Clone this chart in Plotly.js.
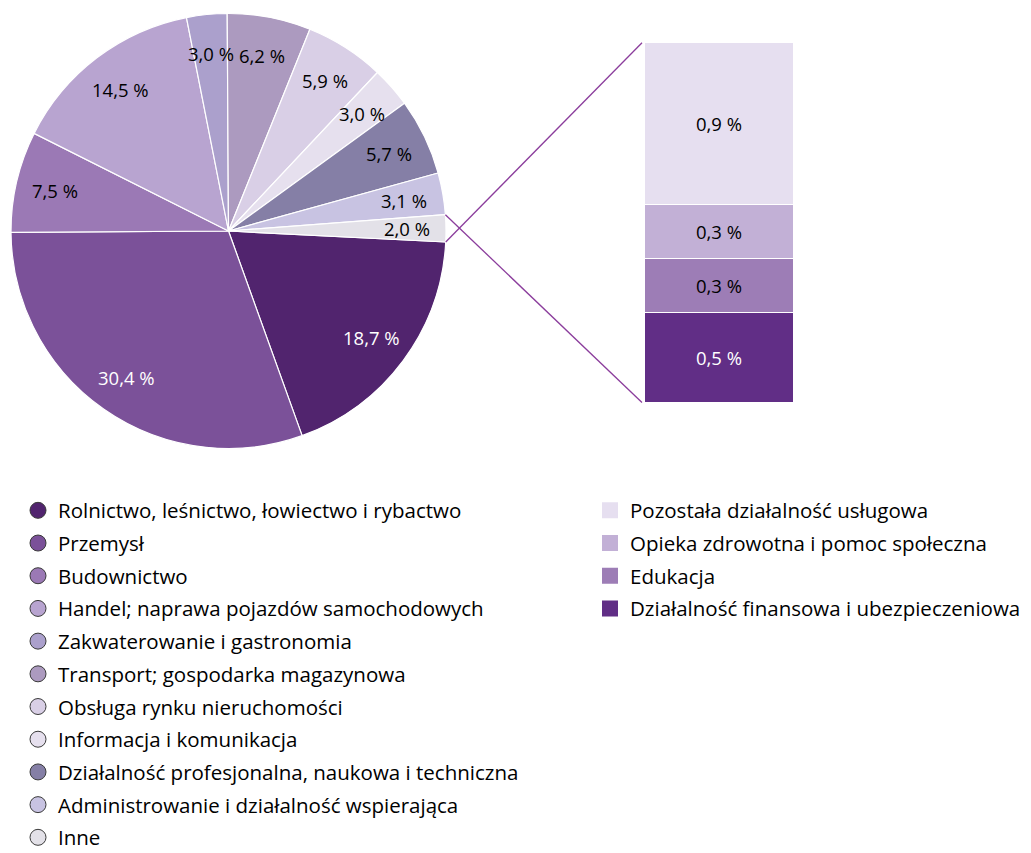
<!DOCTYPE html>
<html><head><meta charset="utf-8">
<script src="https://cdn.plot.ly/plotly-3.0.1.min.js"></script>
<style>html,body{margin:0;padding:0;background:#fff}#chart{width:1031px;height:853px}</style>
</head><body><div id="chart"></div>
<script>
// ---- data ----
const pieLabels = [
  'Rolnictwo, leśnictwo, łowiectwo i rybactwo',
  'Przemysł',
  'Budownictwo',
  'Handel; naprawa pojazdów samochodowych',
  'Zakwaterowanie i gastronomia',
  'Transport; gospodarka magazynowa',
  'Obsługa rynku nieruchomości',
  'Informacja i komunikacja',
  'Działalność profesjonalna, naukowa i techniczna',
  'Administrowanie i działalność wspierająca',
  'Inne'
];
const pieValues = [18.7, 30.4, 7.5, 14.5, 3.0, 6.2, 5.9, 3.0, 5.7, 3.1, 2.0];
const pieColors = ['#51246E','#7B5199','#9B79B5','#B8A4D0','#ABA0CC','#AC9ABF','#D9CFE6','#E6E0EE','#857FA6','#C8C3E2','#E3E1E8'];

// breakdown of "Inne" (bottom to top of the stacked bar)
const barLabels = [
  'Działalność finansowa i ubezpieczeniowa',
  'Edukacja',
  'Opieka zdrowotna i pomoc społeczna',
  'Pozostała działalność usługowa'
];
const barValues = [0.5, 0.3, 0.3, 0.9];
const barColors = ['#612E86','#9D7DB6','#C2B0D6','#E6DFF0'];

// ---- layout constants ----
const W = 1031, H = 853;
const FONT = '"Open Sans", "Noto Sans", sans-serif';
const pieBox = {x0: 11, x1: 446, y0: 13.5, y1: 448.5};   // px
const barBox = {x0: 644, x1: 794, y0: 42.7, y1: 402.5};  // px
const startDeg = 92.9;   // first slice starts just below 3 o'clock, clockwise
const labelR = 0.82;

const fmt = v => v.toFixed(1).replace('.', ',') + ' %';
function textColor(hex){
  const r = parseInt(hex.substr(1,2),16), g = parseInt(hex.substr(3,2),16), b = parseInt(hex.substr(5,2),16);
  return (0.299*r + 0.587*g + 0.114*b)/255 < 0.45 ? '#ffffff' : '#000000';
}

const traces = [];
traces.push({
  type: 'pie', labels: pieLabels, values: pieValues, sort: false,
  direction: 'clockwise', rotation: startDeg,
  marker: {colors: pieColors, line: {color: '#ffffff', width: 1.2}},
  textinfo: 'none', hoverinfo: 'label+value', showlegend: false,
  domain: {x: [pieBox.x0/W, pieBox.x1/W], y: [1 - pieBox.y1/H, 1 - pieBox.y0/H]}
});

const barTotal = barValues.reduce((a,b)=>a+b, 0);
barValues.forEach((v, i) => {
  traces.push({
    type: 'bar', x: [0], y: [v], width: [1], name: barLabels[i],
    marker: {color: barColors[i], line: {color: '#ffffff', width: 1.5}},
    text: [fmt(v)], textposition: 'inside', insidetextanchor: 'middle',
    textangle: 0, constraintext: 'none',
    textfont: {family: FONT, size: 18.5, color: textColor(barColors[i])},
    hoverinfo: 'name+y', showlegend: false
  });
});

// legend entries (circles for pie, squares for bar)
pieLabels.forEach((l, i) => {
  traces.push({
    type: 'scatter', mode: 'markers', x: [null], y: [null], name: l,
    legend: 'legend', legendgroup: 'p' + i,
    marker: {symbol: 'circle', size: 17, color: pieColors[i], line: {color: '#3a3a3a', width: 1}},
    hoverinfo: 'skip'
  });
});
for (let i = barLabels.length - 1; i >= 0; i--) {
  traces.push({
    type: 'scatter', mode: 'markers', x: [null], y: [null], name: barLabels[i],
    legend: 'legend2', legendgroup: 'b' + i,
    marker: {symbol: 'square', size: 17, color: barColors[i], line: {width: 0}},
    hoverinfo: 'skip'
  });
}

// pie geometry (px)
const cx = (pieBox.x0 + pieBox.x1)/2, cy = (pieBox.y0 + pieBox.y1)/2;
const R = Math.min(pieBox.x1 - pieBox.x0, pieBox.y1 - pieBox.y0)/2;
const total = pieValues.reduce((a,b)=>a+b, 0);
const annotations = [];
let acc = 0;
const bounds = [];
pieValues.forEach((v, i) => {
  const a0 = (startDeg - 90) + acc/total*360;
  const a1 = a0 + v/total*360;
  bounds.push([a0, a1]);
  const mid = (a0 + a1)/2 * Math.PI/180;
  const px = cx + R*labelR*Math.cos(mid), py = cy + R*labelR*Math.sin(mid);
  annotations.push({
    xref: 'paper', yref: 'paper', x: px/W, y: 1 - py/H, showarrow: false,
    text: fmt(v), font: {family: FONT, size: 18.5, color: textColor(pieColors[i])},
    xanchor: 'center', yanchor: 'middle'
  });
  acc += v;
});

// connector lines from "Inne" slice to the stacked bar
const last = bounds[bounds.length - 1];
const pt = deg => [cx + R*Math.cos(deg*Math.PI/180), cy + R*Math.sin(deg*Math.PI/180)];
const pTop = pt(last[1]), pBot = pt(last[0]);
const shapes = [
  {type: 'line', xref: 'paper', yref: 'paper', x0: pTop[0]/W, y0: 1 - pTop[1]/H, x1: (barBox.x0 - 2)/W, y1: 1 - barBox.y0/H,
   line: {color: '#8B3D9C', width: 1.3}},
  {type: 'line', xref: 'paper', yref: 'paper', x0: pBot[0]/W, y0: 1 - pBot[1]/H, x1: (barBox.x0 - 2)/W, y1: 1 - barBox.y1/H,
   line: {color: '#8B3D9C', width: 1.3}}
];

const legendStyle = {xanchor: 'left', yanchor: 'top', bgcolor: 'rgba(0,0,0,0)',
  font: {family: FONT, size: 20.5, color: '#000'}, tracegroupgap: 3.05, itemclick: false, itemdoubleclick: false};

const layout = {
  width: W, height: H, margin: {l: 0, r: 0, t: 0, b: 0, autoexpand: false},
  paper_bgcolor: '#ffffff', plot_bgcolor: 'rgba(0,0,0,0)',
  font: {family: FONT, size: 20.5, color: '#000000'},
  barmode: 'stack', bargap: 0,
  xaxis: {domain: [barBox.x0/W, barBox.x1/W], range: [-0.5, 0.5], visible: false, fixedrange: true},
  yaxis: {domain: [1 - barBox.y1/H, 1 - barBox.y0/H], range: [0, barTotal], visible: false, fixedrange: true},
  legend: Object.assign({x: 18/W, y: 1 - 490.5/H}, legendStyle),
  legend2: Object.assign({x: 590/W, y: 1 - 490.5/H}, legendStyle),
  annotations: annotations,
  shapes: shapes,
  showlegend: true
};

Plotly.newPlot('chart', traces, layout, {displayModeBar: false, staticPlot: true});
</script>
</body></html>
